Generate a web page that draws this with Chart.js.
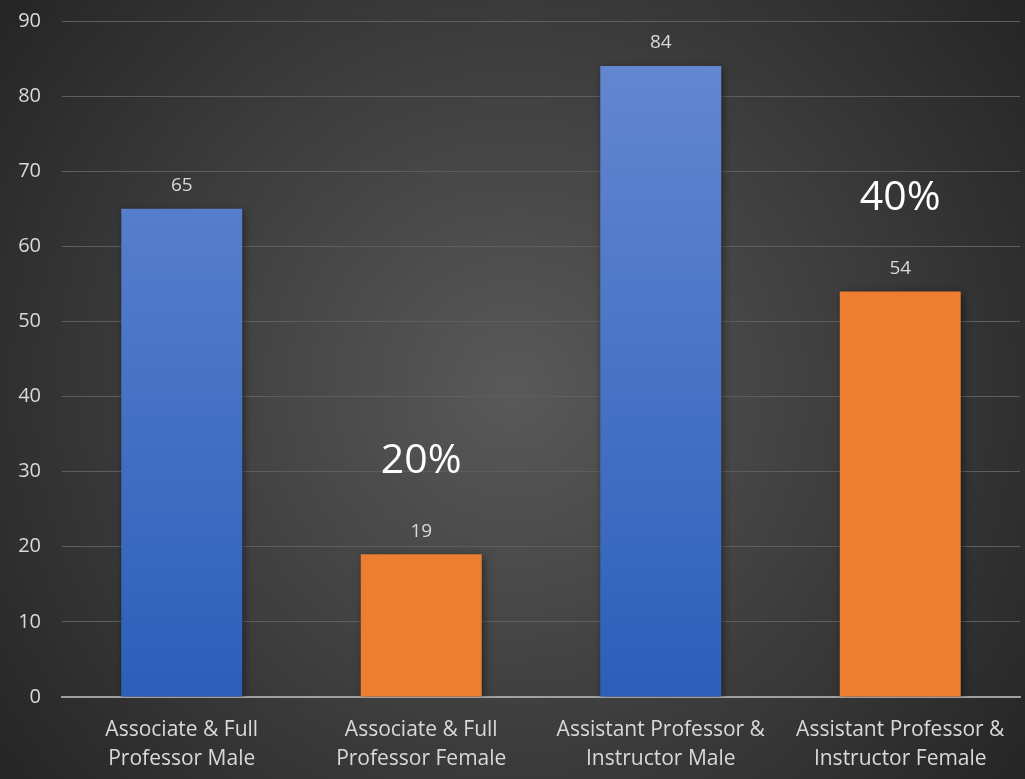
<!DOCTYPE html>
<html>
<head>
<meta charset="utf-8">
<script src="https://cdn.jsdelivr.net/npm/chart.js@4.4.1/dist/chart.umd.min.js"></script>
<style>
  html, body { margin: 0; padding: 0; background: #333; }
  #wrap { width: 1025px; height: 779px; }
</style>
</head>
<body>
<div id="wrap"><canvas id="chart"></canvas></div>
<script>
const categories = [
    ['Associate & Full', 'Professor Male'],
    ['Associate & Full', 'Professor Female'],
    ['Assistant Professor &', 'Instructor Male'],
    ['Assistant Professor &', 'Instructor Female']
];
const counts = [65, 19, 84, 54];
const barKinds = ['male', 'female', 'male', 'female'];
// share labels written above the female bars
const shareLabels = ['', '20%', '', '40%'];

const yTicks = { min: 0, max: 90, step: 10 };
const FONT = '"Open Sans"';

const backgroundPlugin = {
    id: 'radialBg',
    beforeDraw(chart) {
        const { ctx, width, height } = chart;
        const g = ctx.createRadialGradient(width / 2, height / 2, 0, width / 2, height / 2, width * 0.65);
        g.addColorStop(0, '#595959');
        g.addColorStop(1, '#232323');
        ctx.save();
        ctx.fillStyle = g;
        ctx.fillRect(0, 0, width, height);
        ctx.restore();
    }
};

const shadowPlugin = {
    id: 'barShadow',
    beforeDatasetDraw(chart) {
        const ctx = chart.ctx;
        ctx.save();
        ctx.shadowColor = 'rgba(0,0,0,0.45)';
        ctx.shadowBlur = 8;
        ctx.shadowOffsetX = 2;
        ctx.shadowOffsetY = 2;
    },
    afterDatasetDraw(chart) {
        chart.ctx.restore();
    }
};

const labelPlugin = {
    id: 'barLabels',
    afterDatasetsDraw(chart) {
        const { ctx } = chart;
        const meta = chart.getDatasetMeta(0);
        ctx.save();
        ctx.textAlign = 'center';
        ctx.textBaseline = 'middle';
        meta.data.forEach((bar, i) => {
            ctx.fillStyle = '#d9d9d9';
            ctx.font = '19px ' + FONT;
            ctx.fillText(String(counts[i]), bar.x, bar.y - 23);
            if (shareLabels[i]) {
                ctx.fillStyle = '#ffffff';
                ctx.font = '41px ' + FONT;
                ctx.fillText(shareLabels[i], bar.x, bar.y - 93);
            }
        });
        ctx.restore();
    }
};

function barFill(context) {
    const chart = context.chart;
    const area = chart.chartArea;
    if (!area) return '#4472c4';
    if (barKinds[context.dataIndex] === 'female') return '#ed7d31';
    const g = chart.ctx.createLinearGradient(0, area.top, 0, area.bottom);
    g.addColorStop(0, '#6789d2');
    g.addColorStop(1, '#2c5fba');
    return g;
}

new Chart(document.getElementById('chart'), {
    type: 'bar',
    data: {
        labels: categories,
        datasets: [{
            data: counts,
            backgroundColor: barFill,
            borderWidth: 0,
            categoryPercentage: 0.505,
            barPercentage: 1.0
        }]
    },
    options: {
        responsive: true,
        maintainAspectRatio: false,
        animation: false,
        layout: { padding: { top: 21, right: 5, left: 0, bottom: 0 } },
        plugins: {
            legend: { display: false },
            tooltip: { enabled: false }
        },
        scales: {
            x: {
                grid: { display: false, drawTicks: false },
                border: { color: '#a0a0a0', width: 2 },
                ticks: {
                    color: '#d9d9d9',
                    font: { family: 'Open Sans', size: 21, lineHeight: 1.38 },
                    padding: 19,
                    maxRotation: 0,
                    autoSkip: false
                },
                afterFit(scale) { scale.height = 82; }
            },
            y: {
                min: yTicks.min,
                max: yTicks.max,
                ticks: {
                    stepSize: yTicks.step,
                    color: '#d9d9d9',
                    font: { family: 'Open Sans', size: 20 },
                    padding: 21
                },
                grid: { color: '#5e5e5e', lineWidth: 1, drawTicks: false },
                border: { display: false },
                afterFit(scale) {
                    scale.width = 62;
                    scale.paddingTop = 0;
                    scale.paddingBottom = 0;
                }
            }
        }
    },
    plugins: [backgroundPlugin, shadowPlugin, labelPlugin]
});
</script>
</body>
</html>
